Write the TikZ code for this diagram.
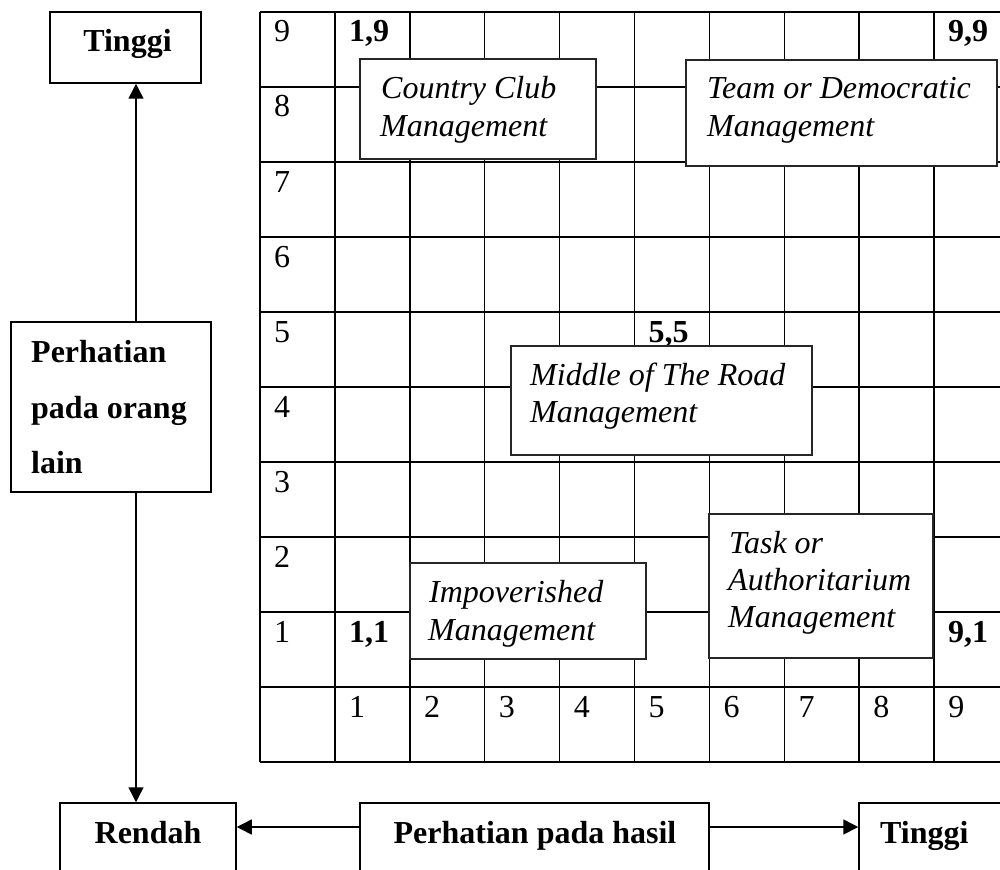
\documentclass[tikz,border=0pt]{standalone}
\usepackage{fontspec}
\setmainfont{Liberation Serif}
\usetikzlibrary{arrows.meta}
\begin{document}
\begin{tikzpicture}[x=1pt,y=-1pt,
  rfont/.style={font=\fontsize{32}{38}\selectfont},
  bfont/.style={font=\fontsize{32}{38}\selectfont\bfseries},
  ifont/.style={font=\fontsize{32}{38}\selectfont\itshape},
  gl/.style={line width=1.5pt},
  box/.style={draw=black, line width=1.5pt, fill=white, inner sep=0pt, rectangle},
  mbox/.style={draw=black!85, line width=1.4pt, fill=white, inner sep=0pt, rectangle},
  lbl/.style={anchor=base west, inner sep=0pt},
  ctr/.style={anchor=base, inner sep=0pt},
  arr/.style={line width=1.5pt, -{Triangle[length=15pt,width=15pt]}}]
\useasboundingbox (0,0) rectangle (1000,869);
\clip (0,0) rectangle (1000,869);
% grid
\foreach \i in {0,...,10} \draw[gl] ({260+74.9*\i},12) -- ({260+74.9*\i},762);
\foreach \j in {0,...,10} \draw[gl] (260,{12+75*\j}) -- (1009,{12+75*\j});
% row labels
\foreach \j in {0,...,8} {
  \pgfmathtruncatemacro\v{9-\j}
  \node[lbl,rfont] (row\v) at (274,{42+75*\j}) {\v};
}
% axis labels
\foreach \i in {1,...,9} \node[lbl,rfont] (ax\i) at ({260+74.9*\i+14},717) {\i};
% bold points
\node[lbl,bfont] (p19) at (349,42) {1,9};
\node[lbl,bfont] (p99) at (948,42) {9,9};
\node[lbl,bfont] (p55) at (648.5,342) {5,5};
\node[lbl,bfont] (p11) at (349,642) {1,1};
\node[lbl,bfont] (p91) at (948,642) {9,1};
% management boxes
\node[mbox, minimum width=236pt, minimum height=100pt] (cc) at (478,109) {};
\node[lbl,ifont] (cc1) at (381,99) {Country Club};
\node[lbl,ifont] (cc2) at (380,137) {Management};
\node[mbox, minimum width=311pt, minimum height=106pt] (team) at (841.5,113) {};
\node[lbl,ifont] (team1) at (707,99) {Team or Democratic};
\node[lbl,ifont] (team2) at (707,137) {Management};
\node[mbox, minimum width=301pt, minimum height=109pt] (mid) at (661.5,400.5) {};
\node[lbl,ifont] (mid1) at (530,385) {Middle of The Road};
\node[lbl,ifont] (mid2) at (530,422) {Management};
\node[mbox, minimum width=224pt, minimum height=144pt] (task) at (821,586) {};
\node[lbl,ifont] (task1) at (729,553) {Task or};
\node[lbl,ifont] (task2) at (728,590) {Authoritarium};
\node[lbl,ifont] (task3) at (728,627) {Management};
\node[mbox, minimum width=236pt, minimum height=96pt] (imp) at (528,611) {};
\node[lbl,ifont] (imp1) at (429,602) {Impoverished};
\node[lbl,ifont] (imp2) at (428,640) {Management};
% left axis
\node[box, minimum width=151pt, minimum height=71pt] (tt) at (125.5,47.5) {};
\node[ctr,bfont] (ttx) at (127.5,52) {Tinggi};
\node[box, minimum width=200pt, minimum height=170pt] (po) at (111,407) {};
\node[lbl,bfont] (po1) at (31,362) {Perhatian};
\node[lbl,bfont] (po2) at (31,418) {pada orang};
\node[lbl,bfont] (po3) at (31,473) {lain};
% bottom axis
\node[box, minimum width=176pt, minimum height=97pt] (ren) at (148,851.5) {};
\node[ctr,bfont] (renx) at (148,843) {Rendah};
\node[box, minimum width=349pt, minimum height=97pt] (ph) at (534.5,851.5) {};
\node[ctr,bfont] (phx) at (535,843) {Perhatian pada hasil};
\node[box, minimum width=161pt, minimum height=97pt] (tb) at (939.5,851.5) {};
\node[lbl,bfont] (tbx) at (880,843) {Tinggi};
% connectors
\coordinate (vx) at (136,0);
\coordinate (hy) at (0,827);
\draw[arr] (po.north -| vx) -- (tt.south -| vx);
\draw[arr] (po.south -| vx) -- (ren.north -| vx);
\draw[arr] (ph.west |- hy) -- (ren.east |- hy);
\draw[arr] (ph.east |- hy) -- (tb.west |- hy);
\end{tikzpicture}
\end{document}
